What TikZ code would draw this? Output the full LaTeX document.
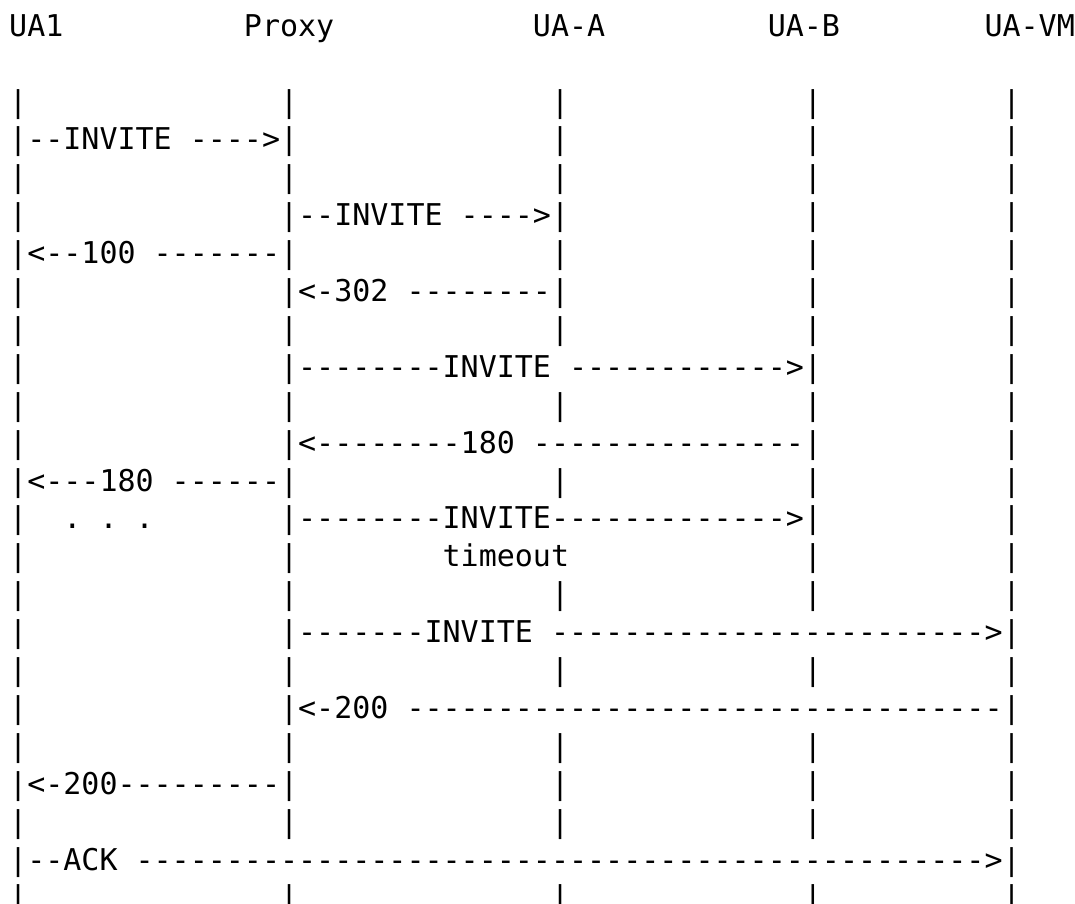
\documentclass[tikz,border=0pt]{standalone}
\usepackage{fontspec}
\setmonofont{DejaVu Sans Mono}

\begin{document}
\begin{tikzpicture}[
    x=9.03pt, y=-18.95pt,
    ascii/.style={anchor=base west, inner sep=0pt, outer sep=0pt, font=\ttfamily\fontsize{15pt}{15pt}\selectfont\frenchspacing},
]
\useasboundingbox (-0.509,-0.955) rectangle (59.01,22.87);

% Participants
\node[ascii] (ua1) at (0,0) {UA1};
\node[ascii] (proxy) at (13,0) {Proxy};
\node[ascii] (uaa) at (29,0) {UA-A};
\node[ascii] (uab) at (42,0) {UA-B};
\node[ascii] (uavm) at (54,0) {UA-VM};

% Lifelines (row / columns of the bars)
\foreach \r/\cols in {2/{0,15,30,44,55}, 3/{30,44,55}, 4/{0,15,30,44,55}, 5/{0,44,55},
    6/{30,44,55}, 7/{0,44,55}, 8/{0,15,30,44,55}, 9/{0,55}, 10/{0,15,30,44,55},
    11/{0,55}, 12/{30,44,55}, 13/{0,55}, 14/{0,15,44,55}, 15/{0,15,30,44,55},
    16/{0}, 17/{0,15,30,44,55}, 18/{0}, 19/{0,15,30,44,55}, 20/{30,44,55},
    21/{0,15,30,44,55}, 23/{0,15,30,44,55}}
  \foreach \c in \cols
    \node[ascii] (bar-\r-\c) at (\c,\r) {|};

% Messages
\node[ascii] (invite-proxy) at (0,3) {|--INVITE ---->|};
\node[ascii] (invite-uaa) at (15,5) {|--INVITE ---->|};
\node[ascii] (trying) at (0,6) {|<--100 -------|};
\node[ascii] (moved) at (15,7) {|<-302 --------|};
\node[ascii] (invite-uab) at (15,9) {|--------INVITE ------------>|};
\node[ascii] (ringing-uab) at (15,11) {|<--------180 ---------------|};
\node[ascii] (ringing-ua1) at (0,12) {|<---180 ------|};
\node[ascii] (dots) at (3,13) {. . .};
\node[ascii] (invite-retry) at (15,13) {|--------INVITE------------->|};
\node[ascii] (timeout) at (24,14) {timeout};
\node[ascii] (invite-vm) at (15,16) {|-------INVITE ------------------------>|};
\node[ascii] (ok-vm) at (15,18) {|<-200 ---------------------------------|};
\node[ascii] (ok-ua1) at (0,20) {|<-200---------|};
\node[ascii] (ack) at (0,22) {|--ACK ----------------------------------------------->|};

\end{tikzpicture}
\end{document}
